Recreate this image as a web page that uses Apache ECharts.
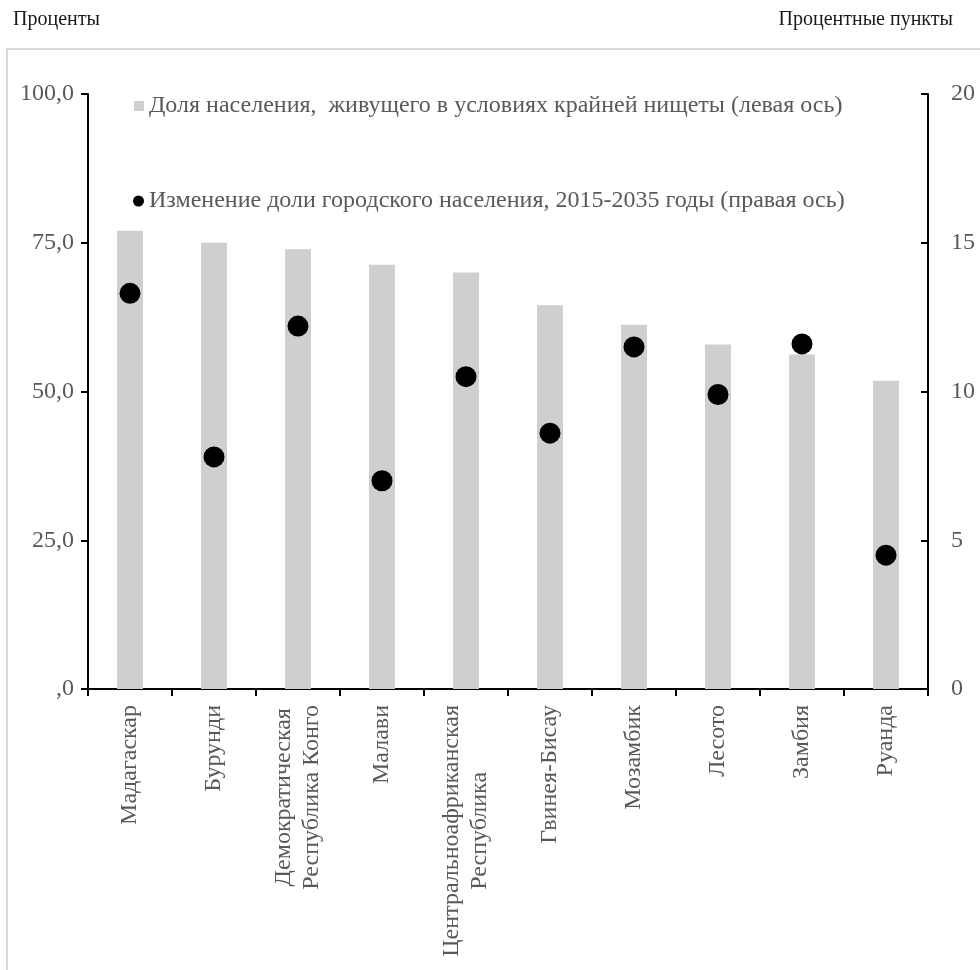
<!DOCTYPE html>
<html>
<head>
<meta charset="utf-8">
<script src="https://cdn.jsdelivr.net/npm/echarts@6/dist/echarts.min.js"></script>
<style>
  html, body { margin: 0; padding: 0; background: #ffffff; }
  #chart { width: 980px; height: 970px; }
</style>
</head>
<body>
<div id="chart"></div>
<script>
// Countries (x axis categories)
const countries = [
  'Мадагаскар',
  'Бурунди',
  'Демократическая\nРеспублика Конго',
  'Малави',
  'Центральноафриканская\nРеспублика',
  'Гвинея-Бисау',
  'Мозамбик',
  'Лесото',
  'Замбия',
  'Руанда'
];

// Share of population in extreme poverty, % (left axis)
const povertyShare = [77.0, 75.0, 73.9, 71.3, 70.0, 64.5, 61.2, 57.9, 56.2, 51.8];

// Change in urban population share 2015-2035, p.p. (right axis)
const urbanChange = [13.3, 7.8, 12.2, 7.0, 10.5, 8.6, 11.5, 9.9, 11.6, 4.5];

// Axis tick values and their printed labels
const leftTicks = [0, 25, 50, 75, 100];
const leftTickLabels = [',0', '25,0', '50,0', '75,0', '100,0'];
const rightTicks = [0, 5, 10, 15, 20];
const rightTickLabels = ['0', '5', '10', '15', '20'];

const seriesNames = [
  'Доля населения,  живущего в условиях крайней нищеты (левая ось)',
  'Изменение доли городского населения, 2015-2035 годы (правая ось)'
];

const FONT = '"Liberation Serif", "Times New Roman", serif';
const GREY_TEXT = '#595959';

const chart = echarts.init(document.getElementById('chart'), null, { renderer: 'canvas' });

function lookup(ticks, labels) {
  return function (v) {
    const i = ticks.indexOf(v);
    return i >= 0 ? labels[i] : '';
  };
}

chart.setOption({
  backgroundColor: '#ffffff',
  animation: false,
  graphic: [
    {
      type: 'rect',
      shape: { x: 7, y: 49, width: 1000, height: 1000 },
      style: { fill: 'none', stroke: '#d9d9d9', lineWidth: 2 },
      silent: true
    },
    {
      type: 'text',
      left: 13, top: 10,
      style: { text: 'Проценты', font: '20px ' + FONT, fill: '#1a1a1a' }
    },
    {
      type: 'text',
      right: 27, top: 10,
      style: { text: 'Процентные пункты', font: '20px ' + FONT, fill: '#1a1a1a' }
    }
  ],
  legend: [
    {
      data: [{ name: seriesNames[0], icon: 'rect' }],
      left: 134, top: 94,
      padding: 0,
      itemWidth: 10, itemHeight: 10,
      textStyle: { fontFamily: FONT, fontSize: 24, color: GREY_TEXT },
      selectedMode: false
    },
    {
      data: [{ name: seriesNames[1], icon: 'circle' }],
      left: 133, top: 189,
      padding: 0,
      itemWidth: 11, itemHeight: 11,
      textStyle: { fontFamily: FONT, fontSize: 24, color: GREY_TEXT },
      selectedMode: false
    }
  ],
  grid: { left: 88, right: 52, top: 94, bottom: 281, containLabel: false },
  xAxis: {
    type: 'category',
    data: countries,
    boundaryGap: true,
    axisLine: { lineStyle: { color: '#000000', width: 2 } },
    axisTick: { show: true, length: 7, lineStyle: { color: '#000000', width: 2 } },
    axisLabel: {
      rotate: 90,
      margin: 16,
      interval: 0,
      color: GREY_TEXT,
      fontFamily: FONT,
      fontSize: 24,
      formatter: function (v) {
        return v.split('\n').map(function (l) { return '{c|' + l + '}'; }).join('\n');
      },
      rich: {
        c: { align: 'center', fontFamily: FONT, fontSize: 24, color: GREY_TEXT, lineHeight: 28 }
      }
    },
    splitLine: { show: false }
  },
  yAxis: [
    {
      type: 'value',
      min: 0, max: 100, interval: 25,
      position: 'left',
      axisLine: { show: true, lineStyle: { color: '#000000', width: 2 } },
      axisTick: { show: true, length: 7, lineStyle: { color: '#000000', width: 2 } },
      axisLabel: {
        margin: 14,
        color: GREY_TEXT, fontFamily: FONT, fontSize: 24,
        formatter: lookup(leftTicks, leftTickLabels)
      },
      splitLine: { show: false }
    },
    {
      type: 'value',
      min: 0, max: 20, interval: 5,
      position: 'right',
      axisLine: { show: true, lineStyle: { color: '#000000', width: 2 } },
      axisTick: { show: true, inside: true, length: 7, lineStyle: { color: '#000000', width: 2 } },
      axisLabel: {
        margin: 23,
        color: GREY_TEXT, fontFamily: FONT, fontSize: 24,
        formatter: lookup(rightTicks, rightTickLabels)
      },
      splitLine: { show: false }
    }
  ],
  series: [
    {
      name: seriesNames[0],
      type: 'bar',
      yAxisIndex: 0,
      data: povertyShare,
      barWidth: 26,
      itemStyle: { color: '#d0cfd0' },
      z: 2
    },
    {
      name: seriesNames[1],
      type: 'scatter',
      yAxisIndex: 1,
      data: urbanChange,
      symbol: 'circle',
      symbolSize: 21,
      itemStyle: { color: '#000000', opacity: 1 },
      z: 3
    }
  ]
});
</script>
</body>
</html>
